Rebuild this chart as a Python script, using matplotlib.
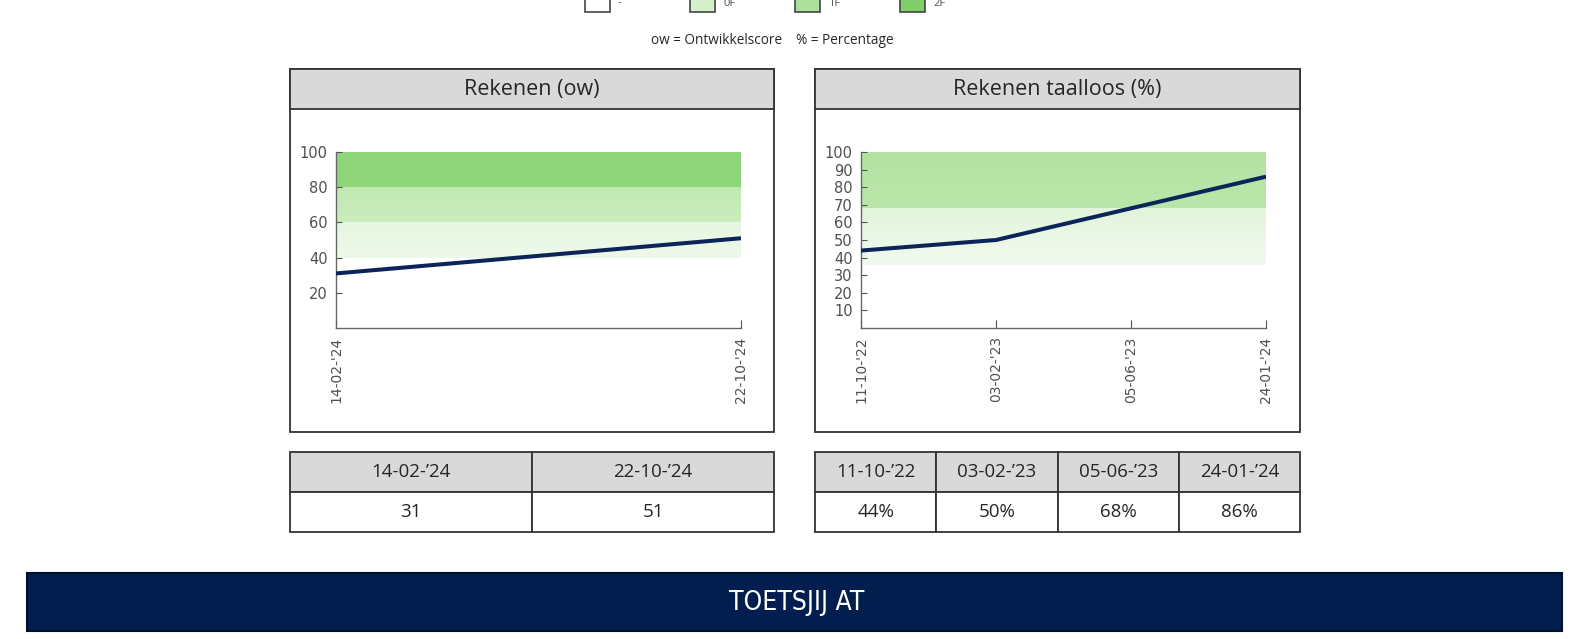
import numpy as np
import matplotlib.pyplot as plt
from matplotlib.patches import Rectangle
from matplotlib.colors import LinearSegmentedColormap

# data
legend_labels = ['-', '0F', '1F', '2F']
legend_colors = ['#ffffff', '#d6f0cc', '#ade09c', '#80cf6b']
note_text = 'ow = Ontwikkelscore    % = Percentage'

title1 = 'Rekenen (ow)'
dates1 = ["14-02-'24", "22-10-'24"]
values1 = [31, 51]
yticks1 = [20, 40, 60, 80, 100]
bands1 = [(40, 60), (60, 80), (80, 100)]
table1 = ['31', '51']

title2 = 'Rekenen taalloos (%)'
dates2 = ["11-10-'22", "03-02-'23", "05-06-'23", "24-01-'24"]
values2 = [44, 50, 68, 86]
yticks2 = [10, 20, 30, 40, 50, 60, 70, 80, 90, 100]
bands2 = [(36, 68), (68, 100)]
table2 = ['44%', '50%', '68%', '86%']

banner = 'TOETSJIJ AT'

# styling
bands1_colors = [('#eff9eb', '#e6f6e0'), ('#c9edbd', '#c2e9b4'), ('#8fd67a', '#8fd67a')]
bands2_colors = [('#f2faef', '#e2f4db'), ('#bbe6ab', '#b3e2a2')]
line_color = '#0b2559'
grey_txt = '#505050'
hdr_fill = '#d9d9d9'
edge = '#333333'
txt_dark = '#262626'

W, H = 1569, 639
fig = plt.figure(figsize=(W / 100, H / 100), dpi=100)

bg = fig.add_axes([0, 0, 1, 1])
bg.set_xlim(0, W)
bg.set_ylim(H, 0)
bg.axis('off')


def px_rect(x0, y0, x1, y1):
    return [x0 / W, 1 - y1 / H, (x1 - x0) / W, (y1 - y0) / H]


def box(x0, y0, x1, y1, fc='white', ec=edge, lw=1.3):
    bg.add_patch(Rectangle((x0, y0), x1 - x0, y1 - y0, fc=fc, ec=ec, lw=lw))


# legend row (top, partly cut off like the source page)
leg_x = [585, 690, 795, 900]
for x, lab, col in zip(leg_x, legend_labels, legend_colors):
    box(x, -6, x + 25, 12, fc=col, ec='#444444', lw=1.2)
    bg.text(x + 33, 3, lab, fontsize=8, color=grey_txt, va='center', ha='left',
            family='Open Sans')
bg.text(772, 40, note_text, fontsize=9.8, color=txt_dark, ha='center', va='center',
        family='Open Sans')


def panel(px0, px1, title, dates, values, yticks, bands, band_cols, table):
    # frame with header
    box(px0, 69, px1, 432)
    box(px0, 69, px1, 109, fc=hdr_fill)
    bg.text((px0 + px1) / 2, 90, title, fontsize=15.5, color=txt_dark,
            ha='center', va='center', family='Open Sans')

    ax = fig.add_axes(px_rect(px0 + 46, 152, px0 + 451, 328))
    ax.set_facecolor('none')
    x = np.arange(len(dates))
    n = len(dates) - 1
    grad = np.linspace(0, 1, 64).reshape(-1, 1)
    for (lo, hi), (c_bot, c_top) in zip(bands, band_cols):
        cmap = LinearSegmentedColormap.from_list('b', [c_bot, c_top])
        ax.imshow(grad, extent=[0, n, lo, hi], origin='lower', aspect='auto',
                  cmap=cmap, zorder=0)
    ax.plot(x, values, color=line_color, lw=2.9, solid_capstyle='butt', zorder=3)
    ax.set_xlim(0, n)
    ax.set_ylim(0, 100)
    ax.set_xticks(x)
    ax.set_xticklabels(dates, rotation=90, fontsize=10, color=grey_txt)
    ax.set_yticks(yticks)
    ax.set_yticklabels([str(v) for v in yticks], fontsize=10.5, color=grey_txt)
    ax.tick_params(axis='y', direction='in', length=4, color='#555555', pad=6)
    ax.tick_params(axis='x', direction='in', length=6, color='#555555', pad=6)
    for s in ['top', 'right']:
        ax.spines[s].set_visible(False)
    for s in ['left', 'bottom']:
        ax.spines[s].set_color('#666666')
        ax.spines[s].set_linewidth(1.0)

    # table under chart
    ncol = len(dates)
    cw = (px1 - px0) / ncol
    for i, (d, v) in enumerate(zip(dates, table)):
        cx0 = px0 + i * cw
        box(cx0, 452, cx0 + cw, 492, fc=hdr_fill)
        box(cx0, 492, cx0 + cw, 532)
        bg.text(cx0 + cw / 2, 472, d.replace("'", "\u2019"), fontsize=13.5,
                color=txt_dark, ha='center', va='center', family='Open Sans')
        bg.text(cx0 + cw / 2, 512, v, fontsize=13.5, color=txt_dark,
                ha='center', va='center', family='Open Sans')


panel(290, 774, title1, dates1, values1, yticks1, bands1, bands1_colors, table1)
panel(815, 1300, title2, dates2, values2, yticks2, bands2, bands2_colors, table2)

# bottom banner
box(27, 573, 1562, 631, fc='#011e4e', ec='#000f2a', lw=1.5)
bg.text(797, 603, banner, fontsize=19, color='white', ha='center', va='center',
        family='DejaVu Sans', fontstretch='condensed')

fig.savefig('out.png', dpi=100)
